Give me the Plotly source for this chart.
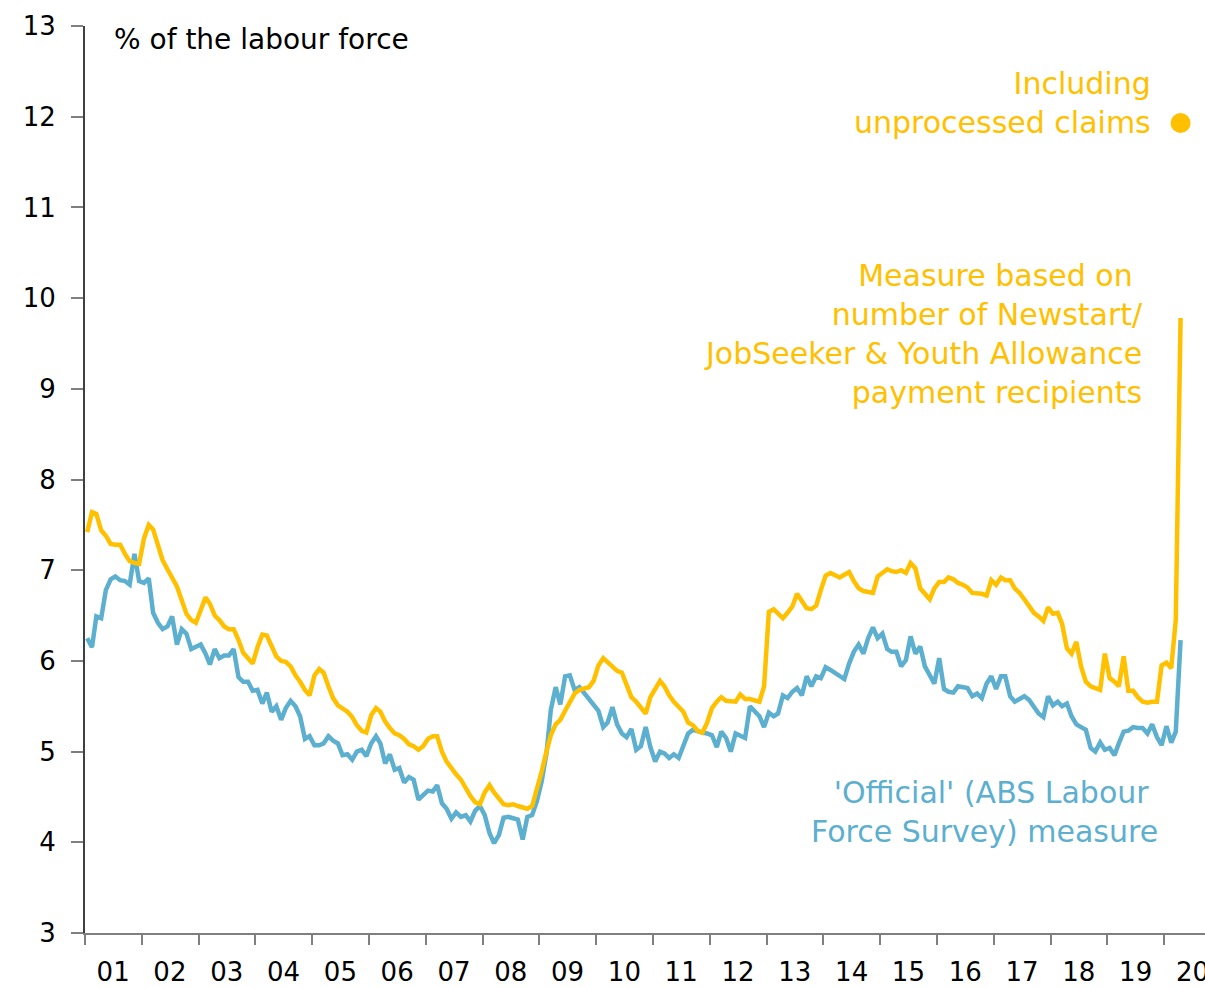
import pandas as pd
import plotly.graph_objects as go

ORANGE = "#FFC000"
BLUE = "#5DAFCF"
FONT = "DejaVu Sans"

# monthly observations, Jan 2001 - Apr 2020 (plotted mid-month)
months = pd.date_range("2001-01-01", periods=232, freq="MS") + pd.Timedelta(days=14)

# 'Official' ABS Labour Force Survey unemployment rate, % of labour force
official = [
    6.25, 6.15, 6.49, 6.47, 6.78, 6.90, 6.93, 6.89, 6.88, 6.84, 7.18, 6.88,  # 2001
    6.86, 6.91, 6.53, 6.42, 6.35, 6.38, 6.49, 6.18, 6.35, 6.30, 6.13, 6.15,  # 2002
    6.18, 6.08, 5.96, 6.13, 6.03, 6.06, 6.06, 6.13, 5.82, 5.77, 5.77, 5.67,  # 2003
    5.68, 5.53, 5.65, 5.44, 5.50, 5.35, 5.48, 5.56, 5.50, 5.39, 5.14, 5.17,  # 2004
    5.07, 5.07, 5.09, 5.17, 5.12, 5.09, 4.96, 4.97, 4.91, 5.00, 5.02, 4.95,  # 2005
    5.09, 5.17, 5.09, 4.87, 4.97, 4.80, 4.82, 4.66, 4.72, 4.69, 4.47, 4.52,  # 2006
    4.57, 4.56, 4.63, 4.43, 4.37, 4.26, 4.33, 4.28, 4.30, 4.23, 4.35, 4.40,  # 2007
    4.30, 4.10, 3.99, 4.08, 4.27, 4.28, 4.26, 4.25, 4.03, 4.28, 4.30, 4.45,  # 2008
    4.67, 4.98, 5.46, 5.71, 5.52, 5.83, 5.84, 5.68, 5.71, 5.65, 5.59, 5.52,  # 2009
    5.45, 5.27, 5.32, 5.49, 5.30, 5.20, 5.16, 5.25, 5.02, 5.06, 5.27, 5.05,  # 2010
    4.89, 5.00, 4.98, 4.93, 4.97, 4.93, 5.05, 5.20, 5.24, 5.22, 5.21, 5.20,  # 2011
    5.18, 5.05, 5.22, 5.15, 5.00, 5.20, 5.17, 5.15, 5.50, 5.45, 5.39, 5.27,  # 2012
    5.43, 5.39, 5.42, 5.62, 5.59, 5.66, 5.70, 5.62, 5.83, 5.72, 5.83, 5.81,  # 2013
    5.93, 5.90, 5.87, 5.83, 5.80, 5.97, 6.10, 6.18, 6.08, 6.25, 6.37, 6.25,  # 2014
    6.30, 6.13, 6.10, 6.10, 5.94, 6.01, 6.27, 6.08, 6.16, 5.94, 5.84, 5.75,  # 2015
    6.03, 5.69, 5.66, 5.65, 5.72, 5.71, 5.70, 5.61, 5.64, 5.59, 5.75, 5.83,  # 2016
    5.69, 5.83, 5.83, 5.61, 5.55, 5.58, 5.61, 5.57, 5.50, 5.42, 5.38, 5.61,  # 2017
    5.51, 5.55, 5.50, 5.53, 5.39, 5.30, 5.27, 5.24, 5.04, 5.00, 5.10, 5.02,  # 2018
    5.04, 4.96, 5.09, 5.22, 5.23, 5.27, 5.26, 5.26, 5.20, 5.30, 5.16, 5.07,  # 2019
    5.28, 5.10, 5.22, 6.23,                                                  # 2020
]

# measure based on Newstart/JobSeeker & Youth Allowance recipients
recipients = [
    7.42, 7.64, 7.62, 7.44, 7.38, 7.29, 7.28, 7.28, 7.18, 7.10, 7.08, 7.07,  # 2001
    7.35, 7.50, 7.45, 7.28, 7.11, 7.01, 6.91, 6.82, 6.67, 6.52, 6.45, 6.42,  # 2002
    6.56, 6.70, 6.63, 6.50, 6.45, 6.38, 6.35, 6.35, 6.23, 6.09, 6.03, 5.97,  # 2003
    6.15, 6.29, 6.28, 6.15, 6.05, 6.00, 5.99, 5.94, 5.84, 5.77, 5.68, 5.62,  # 2004
    5.84, 5.91, 5.87, 5.72, 5.59, 5.51, 5.48, 5.44, 5.38, 5.29, 5.23, 5.21,  # 2005
    5.40, 5.48, 5.44, 5.33, 5.26, 5.20, 5.18, 5.14, 5.08, 5.06, 5.02, 5.06,  # 2006
    5.14, 5.17, 5.17, 5.00, 4.89, 4.81, 4.75, 4.69, 4.59, 4.51, 4.44, 4.42,  # 2007
    4.55, 4.63, 4.55, 4.48, 4.42, 4.41, 4.42, 4.40, 4.38, 4.37, 4.40, 4.58,  # 2008
    4.78, 5.00, 5.18, 5.30, 5.35, 5.45, 5.55, 5.64, 5.68, 5.70, 5.71, 5.78,  # 2009
    5.95, 6.03, 5.99, 5.93, 5.89, 5.87, 5.75, 5.60, 5.55, 5.49, 5.42, 5.60,  # 2010
    5.68, 5.78, 5.72, 5.62, 5.55, 5.50, 5.44, 5.32, 5.29, 5.23, 5.21, 5.32,  # 2011
    5.48, 5.55, 5.60, 5.56, 5.55, 5.55, 5.63, 5.58, 5.58, 5.57, 5.55, 5.72,  # 2012
    6.54, 6.57, 6.52, 6.47, 6.53, 6.60, 6.74, 6.65, 6.58, 6.57, 6.61, 6.78,  # 2013
    6.94, 6.97, 6.95, 6.92, 6.95, 6.98, 6.88, 6.80, 6.77, 6.76, 6.75, 6.93,  # 2014
    6.97, 7.01, 6.99, 6.98, 7.00, 6.97, 7.08, 7.02, 6.80, 6.74, 6.68, 6.80,  # 2015
    6.87, 6.87, 6.92, 6.90, 6.86, 6.84, 6.81, 6.75, 6.75, 6.74, 6.72, 6.89,  # 2016
    6.84, 6.92, 6.89, 6.89, 6.80, 6.75, 6.68, 6.60, 6.53, 6.49, 6.44, 6.59,  # 2017
    6.52, 6.53, 6.41, 6.14, 6.08, 6.21, 5.94, 5.77, 5.72, 5.70, 5.68, 6.08,  # 2018
    5.81, 5.77, 5.72, 6.05, 5.67, 5.67, 5.60, 5.55, 5.54, 5.55, 5.55, 5.95,  # 2019
    5.98, 5.92, 6.45, 9.78,                                                  # 2020
]

# including unprocessed claims (single point, Apr 2020)
unprocessed_x = ["2020-04-15"]
unprocessed_y = [11.93]

fig = go.Figure()

fig.add_trace(go.Scatter(
    x=months, y=official, mode="lines",
    line=dict(color=BLUE, width=4.5),
))
fig.add_trace(go.Scatter(
    x=months, y=recipients, mode="lines",
    line=dict(color=ORANGE, width=4.5),
))
fig.add_trace(go.Scatter(
    x=unprocessed_x, y=unprocessed_y, mode="markers",
    marker=dict(color=ORANGE, size=20),
    cliponaxis=False,
))

fig.add_annotation(
    text="% of the labour force", xref="paper", yref="paper",
    x=0.024, y=0.985, xanchor="left", yanchor="middle",
    showarrow=False, font=dict(size=28, color="#000000"),
)
fig.add_annotation(
    text="Including<br>unprocessed claims", xref="paper", yref="paper",
    x=0.954, y=0.915, xanchor="right", yanchor="middle", align="right",
    showarrow=False, font=dict(size=30, color=ORANGE),
)
fig.add_annotation(
    text="Measure based on\u00a0<br>number of Newstart/<br>"
         "JobSeeker &amp; Youth Allowance<br>payment recipients",
    xref="paper", yref="paper",
    x=0.946, y=0.66, xanchor="right", yanchor="middle", align="right",
    showarrow=False, font=dict(size=30, color=ORANGE),
)
fig.add_annotation(
    text="'Official' (ABS Labour\u00a0<br>Force Survey) measure",
    xref="paper", yref="paper",
    x=0.960, y=0.133, xanchor="right", yanchor="middle", align="right",
    showarrow=False, font=dict(size=30, color=BLUE),
)

fig.update_layout(
    width=1205, height=987,
    margin=dict(l=85, r=0, t=26, b=54),
    paper_bgcolor="white", plot_bgcolor="white",
    showlegend=False,
    font=dict(family=FONT, size=26, color="#000000"),
    xaxis=dict(
        type="date",
        range=["2001-01-01", "2020-09-19"],
        # labels sit mid-year, tick marks at year boundaries
        tick0="2001-07-01", dtick="M12", tickformat="%y",
        ticks="outside", ticklen=10, tickcolor="rgba(0,0,0,0)",
        minor=dict(
            tick0="2001-01-01", dtick="M12",
            ticks="outside", ticklen=10, tickwidth=2, tickcolor="#7f7f7f",
            showgrid=False,
        ),
        showline=True, linecolor="#7f7f7f", linewidth=2,
        showgrid=False, zeroline=False,
        ticklabelstandoff=5, ticklabeloverflow="allow",
        automargin=False,
    ),
    yaxis=dict(
        range=[3, 13], dtick=1,
        ticks="outside", ticklen=12, tickwidth=2, tickcolor="#7f7f7f",
        showline=True, linecolor="#404040", linewidth=2,
        showgrid=False, zeroline=False,
        ticklabelstandoff=10,
        automargin=False,
    ),
)

# page body has a default 8px margin; drop it so the figure fills the window
fig.write_html(
    "out.html",
    config={"displayModeBar": False},
    post_script="document.body.style.margin='0';"
                "document.body.style.overflow='hidden';",
)
